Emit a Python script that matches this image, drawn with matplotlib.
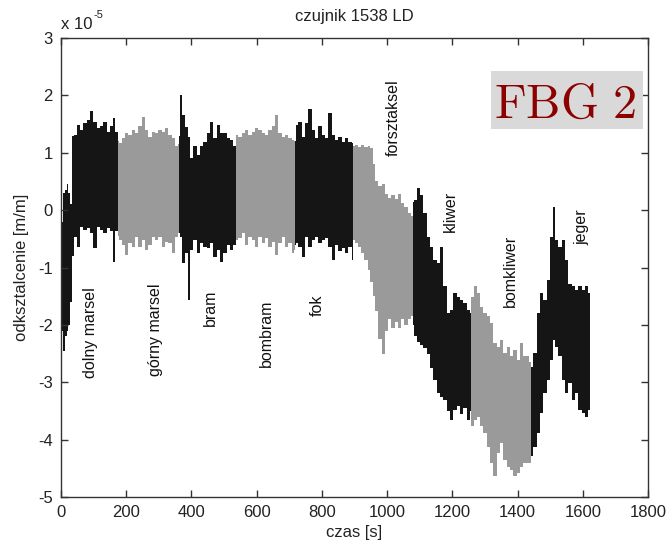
import numpy as np
import matplotlib
matplotlib.use('Agg')
import matplotlib.pyplot as plt
from matplotlib.patches import Rectangle
from matplotlib.ticker import FuncFormatter

plt.rcParams['font.family'] = ['Liberation Sans', 'DejaVu Sans']

# envelope of the strain signal (x 1e-5 m/m), read per sail segment
dolny_t = [0, 5, 10, 15, 20, 25, 30, 36, 43, 53, 63, 74, 84, 94, 104, 114, 125, 135, 145, 155, 163, 171, 176]
dolny_hi = [-0.3, -0.2, 0.3, 0.35, 0.45, 0.3, 0.1, 1.3, 1.31, 1.48, 1.40, 1.51, 1.57, 1.72, 1.54, 1.43, 1.46, 1.54, 1.37, 1.46, 1.60, 1.37, 1.35]
dolny_lo = [-1.8, -2.1, -2.45, -2.2, -2.1, -2.0, -1.6, -0.8, -0.46, -0.64, -0.29, -0.35, -0.32, -0.40, -0.66, -0.29, -0.35, -0.40, -0.32, -0.37, -0.90, -0.37, -0.35]

gorny_t = [176, 181, 191, 201, 212, 222, 232, 242, 252, 263, 273, 283, 293, 304, 314, 324, 334, 345, 355, 362]
gorny_hi = [1.2, 1.17, 1.25, 1.34, 1.31, 1.40, 1.34, 1.46, 1.62, 1.40, 1.28, 1.37, 1.34, 1.40, 1.37, 1.43, 1.31, 1.25, 1.11, 1.15]
gorny_lo = [-0.45, -0.52, -0.61, -0.78, -0.58, -0.64, -0.46, -0.64, -0.52, -0.69, -0.61, -0.46, -0.52, -0.46, -0.64, -0.55, -0.58, -0.75, -0.46, -0.4]

bram_t = [362, 365, 375, 385, 391, 401, 411, 421, 431, 442, 452, 462, 472, 482, 493, 503, 513, 523, 533, 538]
bram_hi = [1.3, 2.0, 1.66, 1.45, 1.28, 0.90, 1.11, 0.96, 1.11, 1.19, 1.34, 1.54, 1.25, 1.48, 1.34, 1.34, 1.25, 1.22, 1.11, 1.1]
bram_lo = [-0.4, -0.46, -0.93, -0.75, -1.56, -0.69, -0.52, -0.75, -0.58, -0.64, -0.66, -0.58, -0.81, -0.69, -0.90, -0.75, -0.61, -0.69, -0.61, -0.69]

bombram_t = [538, 549, 559, 569, 580, 590, 600, 610, 620, 631, 641, 651, 661, 672, 682, 692, 702, 712, 717]
bombram_hi = [1.31, 1.28, 1.34, 1.40, 1.31, 1.37, 1.43, 1.40, 1.34, 1.31, 1.40, 1.46, 1.66, 1.34, 1.28, 1.31, 1.25, 1.22, 1.2]
bombram_lo = [-0.52, -0.49, -0.40, -0.61, -0.46, -0.52, -0.64, -0.46, -0.58, -0.49, -0.64, -0.55, -0.78, -0.58, -0.46, -0.64, -0.58, -0.75, -0.7]

fok_t = [717, 723, 733, 743, 753, 764, 774, 784, 794, 804, 815, 825, 835, 845, 856, 866, 876, 886, 896]
fok_hi = [1.2, 1.48, 1.54, 1.28, 1.51, 1.77, 1.40, 1.25, 1.46, 1.31, 1.25, 1.69, 1.31, 1.22, 1.28, 1.19, 1.25, 1.19, 1.17]
fok_lo = [-0.6, -0.58, -0.64, -0.81, -0.46, -0.64, -0.52, -0.46, -0.58, -0.52, -0.49, -0.64, -0.87, -0.61, -0.72, -0.66, -0.75, -0.64, -0.87]

forsztaksel_t = [896, 905, 915, 925, 935, 945, 952, 960, 968, 978, 988, 998, 1008, 1018, 1028, 1038, 1048, 1058, 1068, 1080]
forsztaksel_hi = [1.12, 1.14, 1.10, 1.14, 1.10, 1.12, 1.08, 0.80, 0.50, 0.42, 0.45, 0.28, 0.22, 0.27, 0.20, 0.28, 0.12, 0.05, -0.05, -0.1]
forsztaksel_lo = [-0.52, -0.58, -0.64, -0.75, -0.87, -1.05, -1.25, -1.5, -1.75, -2.25, -2.5, -2.1, -1.9, -2.05, -1.95, -2.05, -1.9, -2.0, -1.9, -1.85]

kliwer_t = [1080, 1086, 1096, 1106, 1116, 1127, 1137, 1147, 1157, 1167, 1178, 1188, 1198, 1208, 1219, 1229, 1239, 1249, 1257]
kliwer_hi = [0.15, 0.18, 0.38, 0.26, -0.05, -0.46, -0.64, -0.87, -0.93, -0.64, -1.33, -1.80, -1.74, -1.45, -1.51, -1.57, -1.62, -1.74, -1.8]
kliwer_lo = [-2.0, -2.2, -2.3, -2.35, -2.4, -2.5, -2.75, -2.96, -3.19, -3.25, -3.31, -3.5, -3.66, -3.48, -3.42, -3.55, -3.45, -3.66, -3.5]

bomkliwer_t = [1257, 1260, 1270, 1280, 1290, 1300, 1311, 1321, 1331, 1341, 1351, 1362, 1372, 1382, 1392, 1403, 1413, 1423, 1433, 1440]
bomkliwer_hi = [-1.5, -1.51, -1.33, -1.45, -1.68, -1.80, -1.85, -1.97, -2.32, -2.38, -2.26, -2.49, -2.38, -2.55, -2.44, -2.61, -2.32, -2.55, -2.55, -2.64]
bomkliwer_lo = [-3.7, -3.77, -3.66, -3.60, -3.77, -3.89, -4.12, -4.41, -4.64, -4.24, -4.06, -4.35, -4.47, -4.53, -4.64, -4.58, -4.47, -4.41, -4.41, -4.4]

jeger_t = [1440, 1443, 1454, 1464, 1474, 1484, 1495, 1505, 1512, 1520, 1530, 1541, 1551, 1561, 1571, 1581, 1592, 1602, 1612, 1622]
jeger_hi = [-2.7, -2.73, -2.49, -1.80, -1.45, -1.57, -1.22, -0.46, 0.06, -0.52, -0.64, -0.52, -0.87, -1.28, -1.33, -1.39, -1.33, -1.39, -1.33, -1.45]
jeger_lo = [-4.3, -4.29, -4.12, -3.89, -3.54, -3.19, -2.96, -2.61, -2.26, -2.38, -2.55, -2.96, -3.19, -3.02, -3.31, -3.19, -3.48, -3.54, -3.60, -3.48]

# sail labels: name, time, strain position
label_names = ['dolny marsel', 'górny marsel', 'bram', 'bombram', 'fok',
               'forsztaksel', 'kliwer', 'bomkliwer', 'jeger']
label_t = [89, 291, 457, 630, 785, 1018, 1193, 1377, 1597]
label_v = [-2.14, -2.09, -1.70, -2.14, -1.65, 1.61, -0.03, -1.06, -0.30]

BLACK = '#151515'
GRAY = '#9a9a9a'

segments = [
    (dolny_t, dolny_hi, dolny_lo, BLACK),
    (gorny_t, gorny_hi, gorny_lo, GRAY),
    (bram_t, bram_hi, bram_lo, BLACK),
    (bombram_t, bombram_hi, bombram_lo, GRAY),
    (fok_t, fok_hi, fok_lo, BLACK),
    (forsztaksel_t, forsztaksel_hi, forsztaksel_lo, GRAY),
    (kliwer_t, kliwer_hi, kliwer_lo, BLACK),
    (bomkliwer_t, bomkliwer_hi, bomkliwer_lo, GRAY),
    (jeger_t, jeger_hi, jeger_lo, BLACK),
]

fig = plt.figure(figsize=(6.66, 5.48), dpi=100)
ax = fig.add_axes([61 / 666, 51 / 548, 587 / 666, 459 / 548])

for t, hi, lo, color in segments:
    ax.fill_between(t, lo, hi, step='mid', color=color, linewidth=0)

for name, t, v in zip(label_names, label_t, label_v):
    ax.text(t, v, name, rotation=90, ha='center', va='center',
            fontsize=11.5, color='#111111')

ax.set_xlim(0, 1800)
ax.set_ylim(-5, 3)
ax.set_xticks(np.arange(0, 1801, 200))
ax.set_yticks(np.arange(-5, 4, 1))
ax.yaxis.set_major_formatter(FuncFormatter(lambda v, p: '%d' % v))
ax.tick_params(direction='in', top=True, right=True, length=5, width=1,
               color='#333333', labelsize=12, labelcolor='#222222', pad=6)
for sp in ax.spines.values():
    sp.set_color('#333333')
    sp.set_linewidth(1)

ax.set_xlabel('czas [s]', fontsize=12, color='#222222', labelpad=3)
ax.set_ylabel('odksztalcenie [m/m]', fontsize=12, color='#222222', labelpad=6)
ax.set_title('czujnik 1538 LD', fontsize=12, color='#222222', pad=12)

# MATLAB style exponent above the y axis
ax.text(0.0, 1.012, 'x 10', transform=ax.transAxes, ha='left', va='bottom',
        fontsize=12, color='#222222')
ax.text(0.055, 1.04, '-5', transform=ax.transAxes, ha='left', va='bottom',
        fontsize=8, color='#222222')

# FBG 2 tag
fig.patches.append(Rectangle((491 / 666, 1 - 129 / 548), 152 / 666, 58 / 548,
                             transform=fig.transFigure, facecolor='#d9d9d9',
                             edgecolor='none', zorder=5))
fig.text(565 / 666, 1 - 118 / 548, r'$\mathrm{FBG\ 2}$', math_fontfamily='cm',
         fontsize=35, color='#8c0000', ha='center', va='baseline', zorder=6)

fig.savefig('out.png', dpi=100)
